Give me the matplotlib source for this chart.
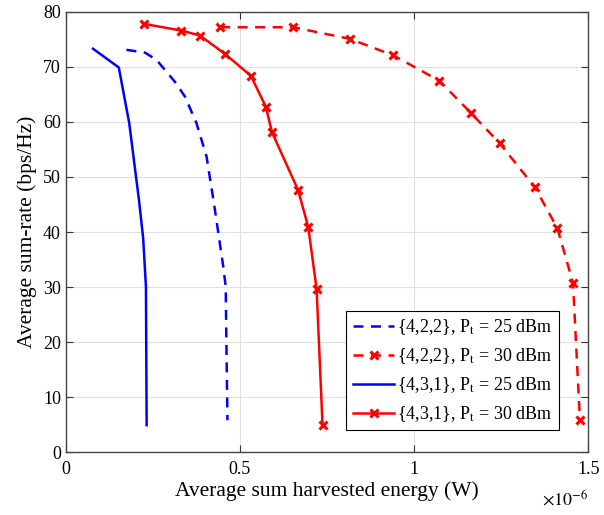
import numpy as np
import matplotlib
matplotlib.use("Agg")
import matplotlib.pyplot as plt

plt.rcParams['font.family'] = ['Liberation Serif', 'DejaVu Serif']
plt.rcParams['mathtext.fontset'] = 'stix'

### data (x in units of 1e-6 W)
x422_25 = [0.174, 0.227, 0.260, 0.313, 0.342, 0.375, 0.404, 0.426, 0.452, 0.459, 0.461, 0.464]
y422_25 = [73.1, 72.6, 71.3, 67.3, 64.6, 59.8, 53.7, 44.9, 33.7, 30.1, 19.8, 5.8]

x422_30 = [0.443, 0.653, 0.815, 0.940, 1.072, 1.162, 1.246, 1.347, 1.411, 1.456, 1.476]
y422_30 = [77.2, 77.2, 75.1, 72.1, 67.5, 61.7, 56.1, 48.1, 40.7, 30.8, 5.8]

x431_25 = [0.078, 0.152, 0.182, 0.210, 0.222, 0.230, 0.232]
y431_25 = [73.3, 69.9, 59.8, 45.8, 38.9, 30.1, 4.9]

x431_30 = [0.225, 0.332, 0.385, 0.456, 0.531, 0.574, 0.592, 0.667, 0.696, 0.720, 0.737]
y431_30 = [77.8, 76.6, 75.7, 72.4, 68.4, 62.8, 58.1, 47.6, 40.9, 29.6, 4.9]

labels = [r'{4,2,2}, P$_{\rm t}$ = 25 dBm', r'{4,2,2}, P$_{\rm t}$ = 30 dBm',
          r'{4,3,1}, P$_{\rm t}$ = 25 dBm', r'{4,3,1}, P$_{\rm t}$ = 30 dBm']

fig = plt.figure(figsize=(6.04, 5.15), dpi=100)
ax = fig.add_axes([0.109, 0.122, 0.865, 0.855])

sc = 1e-6
ax.plot(np.array(x422_25)*sc, y422_25, 'b--', lw=1.8, dashes=(4, 3), label=labels[0])
ax.plot(np.array(x422_30)*sc, y422_30, 'r--', lw=1.8, dashes=(4, 3), marker='x',
        ms=6, mew=2.2, label=labels[1])
ax.plot(np.array(x431_25)*sc, y431_25, 'b-', lw=1.8, label=labels[2])
ax.plot(np.array(x431_30)*sc, y431_30, 'r-', lw=1.8, marker='x', ms=6, mew=2.2, label=labels[3])

ax.set_xlim(0, 1.5e-6)
ax.set_ylim(0, 80)
ax.set_xticks([0, 0.5e-6, 1e-6, 1.5e-6])
ax.set_xticklabels(['0', '0.5', '1', '1.5'])
ax.set_yticks(range(0, 81, 10))
ax.grid(True, color='#e0e0e0', lw=0.8)
ax.set_axisbelow(True)
ax.tick_params(direction='in', top=True, right=True, labelsize=13, length=5, color='#333333')
ax.tick_params(axis='x', pad=6)
for s in ax.spines.values():
    s.set_color('#444444')
    s.set_linewidth(1.0)

ax.set_xlabel('Average sum harvested energy (W)', fontsize=15.5, labelpad=3)
ax.set_ylabel('Average sum-rate (bps/Hz)', fontsize=15.5)
ax.text(1.0, -0.085, r'$\times10^{-6}$', transform=ax.transAxes, ha='right', va='top', fontsize=13)

leg = ax.legend(loc='lower right', bbox_to_anchor=(0.943, 0.05), fontsize=13, fancybox=False,
                edgecolor='black', framealpha=1, borderpad=0.35, labelspacing=0.5,
                handlelength=2.3, handletextpad=0.15, borderaxespad=0)
leg.get_frame().set_linewidth(0.8)

fig.savefig('out.png', dpi=100)
